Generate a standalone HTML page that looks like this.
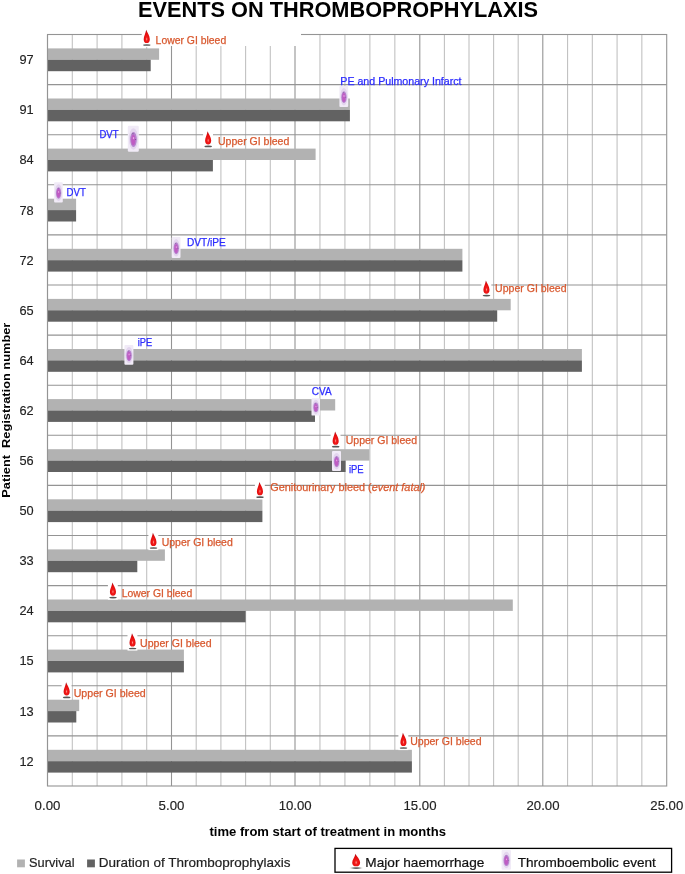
<!DOCTYPE html>
<html lang="en"><head><meta charset="utf-8"><title>Events on thromboprophylaxis</title>
<style>html,body{margin:0;padding:0;background:#fff}body{width:685px;height:874px;overflow:hidden}svg{display:block;transform:translateZ(0);will-change:transform}text{font-family:"Liberation Sans",sans-serif}</style>
</head><body>
<svg width="685" height="874" viewBox="0 0 685 874">
<defs>
<radialGradient id="dg" cx="0.5" cy="0.7" r="0.75"><stop offset="0" stop-color="#ff9c92"/><stop offset="0.2" stop-color="#f21c1c"/><stop offset="0.62" stop-color="#e20a0a"/><stop offset="1" stop-color="#8c1020"/></radialGradient>
<radialGradient id="tg" cx="0.5" cy="0.5" r="0.5"><stop offset="0" stop-color="#b45ccc"/><stop offset="0.6" stop-color="#c47fd6"/><stop offset="1" stop-color="#dcc4ea"/></radialGradient>
<filter id="bl" x="-30%" y="-100%" width="160%" height="300%"><feGaussianBlur stdDeviation="0.65"/></filter>
<filter id="b2" x="-20%" y="-20%" width="140%" height="140%"><feGaussianBlur stdDeviation="0.5"/></filter>
<g id="drop"><rect x="-5" y="-2.5" width="9.9" height="19.8" fill="#fff"/><ellipse cx="0.1" cy="15.2" rx="3.8" ry="0.85" fill="#444" opacity="0.9" filter="url(#bl)"/><path d="M-0.5,0 C0.3,2.5 3.1,6 3.1,9.4 C3.1,11.9 1.8,13.3 0.1,13.3 C-1.8,13.3 -3.0,11.9 -3.0,9.4 C-3.0,6.5 -1.0,3.5 -0.5,0 Z" fill="url(#dg)"/></g>
<g id="thr"><rect x="0" y="0" width="9" height="20" rx="1.0" fill="#f1ebf7"/><ellipse cx="4.6" cy="10.2" rx="3.7" ry="8.3" fill="#e3d5ee" filter="url(#b2)"/><ellipse cx="4.65" cy="10.6" rx="2.7" ry="5.7" fill="#b682cf" filter="url(#b2)"/><ellipse cx="4.5" cy="10.9" rx="1.7" ry="4.2" fill="#bf5cc3" filter="url(#b2)"/><ellipse cx="4.7" cy="9.5" rx="0.6" ry="0.9" fill="#e6a8e6" filter="url(#b2)"/><circle cx="6.4" cy="10.6" r="0.4" fill="#6a5080"/><circle cx="4.2" cy="6.1" r="0.4" fill="#6a5080"/></g>
</defs>
<rect width="685" height="874" fill="#fff"/>
<path d="M72.30,34.5V786.0 M97.10,34.5V786.0 M121.90,34.5V786.0 M146.70,34.5V786.0 M196.20,34.5V786.0 M220.90,34.5V786.0 M245.60,34.5V786.0 M270.30,34.5V786.0 M319.96,34.5V786.0 M344.92,34.5V786.0 M369.88,34.5V786.0 M394.84,34.5V786.0 M444.40,34.5V786.0 M469.00,34.5V786.0 M493.60,34.5V786.0 M518.20,34.5V786.0 M567.56,34.5V786.0 M592.32,34.5V786.0 M617.08,34.5V786.0 M641.84,34.5V786.0" stroke="#c2c2c2" stroke-width="1.1" fill="none"/>
<path d="M47.5,84.60H666.7 M47.5,134.70H666.7 M47.5,184.80H666.7 M47.5,234.90H666.7 M47.5,285.00H666.7 M47.5,335.10H666.7 M47.5,385.20H666.7 M47.5,435.30H666.7 M47.5,485.40H666.7 M47.5,535.50H666.7 M47.5,585.60H666.7 M47.5,635.70H666.7 M47.5,685.80H666.7 M47.5,735.90H666.7 M171.50,34.5V786.0 M295.00,34.5V786.0 M419.80,34.5V786.0 M542.80,34.5V786.0" stroke="#949494" stroke-width="1.1" fill="none"/>
<rect x="47.5" y="34.5" width="619.20" height="751.50" fill="none" stroke="#949494" stroke-width="1.1"/>
<rect x="142" y="30" width="159" height="16" fill="#fff"/>
<rect x="47.5" y="48.40" width="111.60" height="11.4" fill="#b2b2b2"/>
<rect x="47.5" y="59.80" width="103.20" height="11.4" fill="#626262"/>
<rect x="47.5" y="98.50" width="302.40" height="11.4" fill="#b2b2b2"/>
<rect x="47.5" y="109.90" width="302.40" height="11.4" fill="#626262"/>
<rect x="47.5" y="148.60" width="268.10" height="11.4" fill="#b2b2b2"/>
<rect x="47.5" y="160.00" width="165.40" height="11.4" fill="#626262"/>
<rect x="47.5" y="198.70" width="28.60" height="11.4" fill="#b2b2b2"/>
<rect x="47.5" y="210.10" width="28.60" height="11.4" fill="#626262"/>
<rect x="47.5" y="248.80" width="414.90" height="11.4" fill="#b2b2b2"/>
<rect x="47.5" y="260.20" width="414.90" height="11.4" fill="#626262"/>
<rect x="47.5" y="298.90" width="463.20" height="11.4" fill="#b2b2b2"/>
<rect x="47.5" y="310.30" width="449.70" height="11.4" fill="#626262"/>
<rect x="47.5" y="349.00" width="534.40" height="11.4" fill="#b2b2b2"/>
<rect x="47.5" y="360.40" width="534.40" height="11.4" fill="#626262"/>
<rect x="47.5" y="399.10" width="287.70" height="11.4" fill="#b2b2b2"/>
<rect x="47.5" y="410.50" width="267.50" height="11.4" fill="#626262"/>
<rect x="47.5" y="449.20" width="321.90" height="11.4" fill="#b2b2b2"/>
<rect x="47.5" y="460.60" width="298.10" height="11.4" fill="#626262"/>
<rect x="47.5" y="499.30" width="214.90" height="11.4" fill="#b2b2b2"/>
<rect x="47.5" y="510.70" width="214.90" height="11.4" fill="#626262"/>
<rect x="47.5" y="549.40" width="117.40" height="11.4" fill="#b2b2b2"/>
<rect x="47.5" y="560.80" width="89.80" height="11.4" fill="#626262"/>
<rect x="47.5" y="599.50" width="465.30" height="11.4" fill="#b2b2b2"/>
<rect x="47.5" y="610.90" width="198.10" height="11.4" fill="#626262"/>
<rect x="47.5" y="649.60" width="136.40" height="11.4" fill="#b2b2b2"/>
<rect x="47.5" y="661.00" width="136.40" height="11.4" fill="#626262"/>
<rect x="47.5" y="699.70" width="31.70" height="11.4" fill="#b2b2b2"/>
<rect x="47.5" y="711.10" width="28.80" height="11.4" fill="#626262"/>
<rect x="47.5" y="749.80" width="364.40" height="11.4" fill="#b2b2b2"/>
<rect x="47.5" y="761.20" width="364.40" height="11.4" fill="#626262"/>
<path d="M47.5,34.5V786.0" stroke="#949494" stroke-width="1.1"/>
<text x="33.6" y="64.25" font-size="13.3" text-anchor="end" fill="#222" stroke="#222" stroke-width="0.15" textLength="14.2" lengthAdjust="spacingAndGlyphs">97</text>
<text x="33.6" y="114.35" font-size="13.3" text-anchor="end" fill="#222" stroke="#222" stroke-width="0.15" textLength="14.2" lengthAdjust="spacingAndGlyphs">91</text>
<text x="33.6" y="164.45" font-size="13.3" text-anchor="end" fill="#222" stroke="#222" stroke-width="0.15" textLength="14.2" lengthAdjust="spacingAndGlyphs">84</text>
<text x="33.6" y="214.55" font-size="13.3" text-anchor="end" fill="#222" stroke="#222" stroke-width="0.15" textLength="14.2" lengthAdjust="spacingAndGlyphs">78</text>
<text x="33.6" y="264.65" font-size="13.3" text-anchor="end" fill="#222" stroke="#222" stroke-width="0.15" textLength="14.2" lengthAdjust="spacingAndGlyphs">72</text>
<text x="33.6" y="314.75" font-size="13.3" text-anchor="end" fill="#222" stroke="#222" stroke-width="0.15" textLength="14.2" lengthAdjust="spacingAndGlyphs">65</text>
<text x="33.6" y="364.85" font-size="13.3" text-anchor="end" fill="#222" stroke="#222" stroke-width="0.15" textLength="14.2" lengthAdjust="spacingAndGlyphs">64</text>
<text x="33.6" y="414.95" font-size="13.3" text-anchor="end" fill="#222" stroke="#222" stroke-width="0.15" textLength="14.2" lengthAdjust="spacingAndGlyphs">62</text>
<text x="33.6" y="465.05" font-size="13.3" text-anchor="end" fill="#222" stroke="#222" stroke-width="0.15" textLength="14.2" lengthAdjust="spacingAndGlyphs">56</text>
<text x="33.6" y="515.15" font-size="13.3" text-anchor="end" fill="#222" stroke="#222" stroke-width="0.15" textLength="14.2" lengthAdjust="spacingAndGlyphs">50</text>
<text x="33.6" y="565.25" font-size="13.3" text-anchor="end" fill="#222" stroke="#222" stroke-width="0.15" textLength="14.2" lengthAdjust="spacingAndGlyphs">33</text>
<text x="33.6" y="615.35" font-size="13.3" text-anchor="end" fill="#222" stroke="#222" stroke-width="0.15" textLength="14.2" lengthAdjust="spacingAndGlyphs">24</text>
<text x="33.6" y="665.45" font-size="13.3" text-anchor="end" fill="#222" stroke="#222" stroke-width="0.15" textLength="14.2" lengthAdjust="spacingAndGlyphs">15</text>
<text x="33.6" y="715.55" font-size="13.3" text-anchor="end" fill="#222" stroke="#222" stroke-width="0.15" textLength="14.2" lengthAdjust="spacingAndGlyphs">13</text>
<text x="33.6" y="765.65" font-size="13.3" text-anchor="end" fill="#222" stroke="#222" stroke-width="0.15" textLength="14.2" lengthAdjust="spacingAndGlyphs">12</text>
<text x="34.60" y="810" font-size="13.2" fill="#222" stroke="#222" stroke-width="0.15" textLength="25.8" lengthAdjust="spacingAndGlyphs">0.00</text>
<text x="158.60" y="810" font-size="13.2" fill="#222" stroke="#222" stroke-width="0.15" textLength="25.8" lengthAdjust="spacingAndGlyphs">5.00</text>
<text x="278.70" y="810" font-size="13.2" fill="#222" stroke="#222" stroke-width="0.15" textLength="33.0" lengthAdjust="spacingAndGlyphs">10.00</text>
<text x="403.50" y="810" font-size="13.2" fill="#222" stroke="#222" stroke-width="0.15" textLength="33.0" lengthAdjust="spacingAndGlyphs">15.00</text>
<text x="526.50" y="810" font-size="13.2" fill="#222" stroke="#222" stroke-width="0.15" textLength="33.0" lengthAdjust="spacingAndGlyphs">20.00</text>
<text x="650.30" y="810" font-size="13.2" fill="#222" stroke="#222" stroke-width="0.15" textLength="33.0" lengthAdjust="spacingAndGlyphs">25.00</text>
<text x="138" y="16.8" font-size="22" font-weight="bold" fill="#000" textLength="400" lengthAdjust="spacingAndGlyphs">EVENTS ON THROMBOPROPHYLAXIS</text>
<text x="209.5" y="835.9" font-size="12.5" font-weight="bold" fill="#000" textLength="236.4" lengthAdjust="spacingAndGlyphs">time from start of treatment in months</text>
<text transform="translate(10,497.7) rotate(-90)" font-size="11.6" font-weight="bold" fill="#000" textLength="175" lengthAdjust="spacingAndGlyphs" xml:space="preserve" style="white-space:pre">Patient  Registration number</text>
<use href="#drop" x="146.7" y="29.8"/>
<text x="155.6" y="43.8" font-size="10.4" fill="#d8582e" stroke="#d8582e" stroke-width="0.25" textLength="70.6" lengthAdjust="spacingAndGlyphs">Lower GI bleed</text>
<use href="#drop" x="208.1" y="131.2"/>
<text x="218.0" y="145.2" font-size="10.4" fill="#d8582e" stroke="#d8582e" stroke-width="0.25" textLength="71.3" lengthAdjust="spacingAndGlyphs">Upper GI bleed</text>
<use href="#drop" x="486.4" y="280.4"/>
<text x="495.1" y="292.1" font-size="10.4" fill="#d8582e" stroke="#d8582e" stroke-width="0.25" textLength="71.4" lengthAdjust="spacingAndGlyphs">Upper GI bleed</text>
<use href="#drop" x="335.6" y="431.5"/>
<text x="345.7" y="443.6" font-size="10.4" fill="#d8582e" stroke="#d8582e" stroke-width="0.25" textLength="71.3" lengthAdjust="spacingAndGlyphs">Upper GI bleed</text>
<use href="#drop" x="153.4" y="532.8"/>
<text x="161.7" y="546.0" font-size="10.4" fill="#d8582e" stroke="#d8582e" stroke-width="0.25" textLength="71.1" lengthAdjust="spacingAndGlyphs">Upper GI bleed</text>
<use href="#drop" x="112.9" y="582.4"/>
<text x="121.7" y="596.5" font-size="10.4" fill="#d8582e" stroke="#d8582e" stroke-width="0.25" textLength="70.5" lengthAdjust="spacingAndGlyphs">Lower GI bleed</text>
<use href="#drop" x="132.5" y="633.3"/>
<text x="140.1" y="646.7" font-size="10.4" fill="#d8582e" stroke="#d8582e" stroke-width="0.25" textLength="71.5" lengthAdjust="spacingAndGlyphs">Upper GI bleed</text>
<use href="#drop" x="66.6" y="682.2"/>
<text x="73.7" y="697.1" font-size="10.4" fill="#d8582e" stroke="#d8582e" stroke-width="0.25" textLength="72.0" lengthAdjust="spacingAndGlyphs">Upper GI bleed</text>
<use href="#drop" x="403.4" y="732.8"/>
<text x="410.2" y="744.8" font-size="10.4" fill="#d8582e" stroke="#d8582e" stroke-width="0.25" textLength="71.4" lengthAdjust="spacingAndGlyphs">Upper GI bleed</text>
<use href="#drop" x="259.9" y="482"/>
<text x="270.2" y="491.2" font-size="10.4" fill="#d8582e" stroke="#d8582e" stroke-width="0.25" textLength="155.3" lengthAdjust="spacingAndGlyphs">Genitourinary bleed (<tspan font-style="italic">event fatal)</tspan></text>
<use href="#thr" transform="translate(339.4,86.0) scale(0.9778,1.0500)"/>
<use href="#thr" transform="translate(127.8,125.7) scale(1.2222,1.3000)"/>
<use href="#thr" transform="translate(54.1,182.2) scale(0.9667,1.0200)"/>
<use href="#thr" transform="translate(171.7,237.1) scale(0.9778,1.0500)"/>
<use href="#thr" transform="translate(124.4,345.1) scale(1.0000,0.9850)"/>
<use href="#thr" transform="translate(311.5,398.2) scale(0.9444,0.8650)"/>
<use href="#thr" transform="translate(332.0,451.0) scale(1.0000,0.9950)"/>
<text x="340.3" y="84.6" font-size="10.5" fill="#2b2bff" stroke="#2b2bff" stroke-width="0.25" textLength="121.2" lengthAdjust="spacingAndGlyphs">PE and Pulmonary Infarct</text>
<text x="99.4" y="137.5" font-size="10.5" fill="#2b2bff" stroke="#2b2bff" stroke-width="0.25" textLength="19.1" lengthAdjust="spacingAndGlyphs">DVT</text>
<text x="66.5" y="195.9" font-size="10.5" fill="#2b2bff" stroke="#2b2bff" stroke-width="0.25" textLength="19.3" lengthAdjust="spacingAndGlyphs">DVT</text>
<text x="187.0" y="246.2" font-size="10.5" fill="#2b2bff" stroke="#2b2bff" stroke-width="0.25" textLength="38.8" lengthAdjust="spacingAndGlyphs">DVT/iPE</text>
<text x="137.7" y="345.6" font-size="10.5" fill="#2b2bff" stroke="#2b2bff" stroke-width="0.25" textLength="14.5" lengthAdjust="spacingAndGlyphs">iPE</text>
<text x="311.7" y="395.0" font-size="10.5" fill="#2b2bff" stroke="#2b2bff" stroke-width="0.25" textLength="19.9" lengthAdjust="spacingAndGlyphs">CVA</text>
<text x="348.9" y="472.6" font-size="10.5" fill="#2b2bff" stroke="#2b2bff" stroke-width="0.25" textLength="14.7" lengthAdjust="spacingAndGlyphs">iPE</text>
<rect x="17.1" y="859.5" width="7.8" height="7.8" fill="#b2b2b2"/>
<text x="29.1" y="867.3" font-size="13.5" fill="#222" stroke="#222" stroke-width="0.2" textLength="45.4" lengthAdjust="spacingAndGlyphs">Survival</text>
<rect x="87.1" y="859.5" width="7.8" height="7.8" fill="#626262"/>
<text x="98.7" y="867.3" font-size="13.5" fill="#222" stroke="#222" stroke-width="0.2" textLength="191.7" lengthAdjust="spacingAndGlyphs">Duration of Thromboprophylaxis</text>
<rect x="335" y="848.4" width="336.6" height="23.8" fill="#fff" stroke="#000" stroke-width="1.3"/>
<use href="#drop" transform="translate(356.1,853.8) scale(1.3,0.94)"/>
<text x="365.3" y="866.9" font-size="13.3" fill="#111" stroke="#111" stroke-width="0.2" textLength="119.1" lengthAdjust="spacingAndGlyphs">Major haemorrhage</text>
<use href="#thr" transform="translate(501.6,849.9) scale(1.045,0.99)"/>
<text x="517.7" y="866.9" font-size="13.3" fill="#111" stroke="#111" stroke-width="0.2" textLength="138.2" lengthAdjust="spacingAndGlyphs">Thromboembolic event</text>
</svg></body></html>
